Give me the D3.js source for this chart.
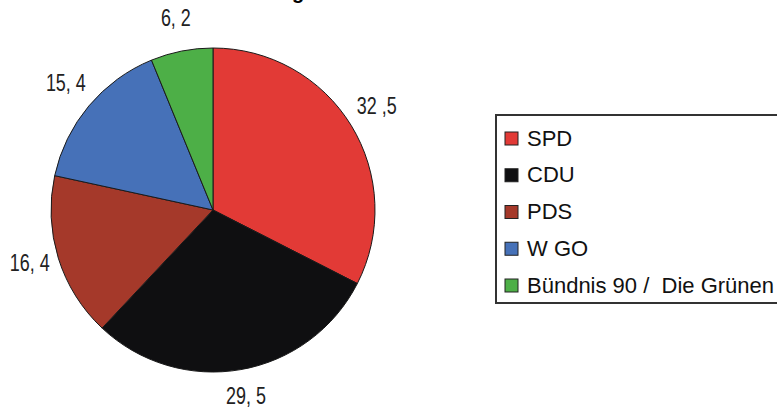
<!DOCTYPE html>
<html>
<head>
<meta charset="utf-8">
<script src="https://cdn.jsdelivr.net/npm/d3@7"></script>
<style>
  html, body { margin: 0; padding: 0; background: #fff; }
  svg { display: block; }
  text { font-family: "Liberation Sans", Arial, sans-serif; white-space: pre; }
</style>
</head>
<body>
<svg id="chart" width="777" height="408"></svg>
<script>
// ---- data ----
const categories = ["SPD", "CDU", "PDS", "W GO", "Bündnis 90 /  Die Grünen"];
const values = [32.5, 29.5, 16.4, 15.4, 6.2];
const valueLabels = ["32 ,5", "29, 5", "16, 4", "15, 4", "6, 2"];
const colors = ["#e23a36", "#0f0f11", "#a5392a", "#4671b8", "#4daf47"];
const titleText = "Wahlergebnis in Prozent";

// ---- layout ----
const W = 777, H = 408;
const cx = 213, cy = 210, R = 162, labelR = 192;

const svg = d3.select("#chart");

// title (clipped at top as in reference)
svg.append("text")
  .attr("x", 226).attr("y", -1)
  .attr("font-size", 20).attr("font-weight", "bold")
  .attr("fill", "#000")
  .text(titleText);

const data = categories.map((c, i) => ({ name: c, value: values[i], label: valueLabels[i], color: colors[i] }));

const pie = d3.pie().value(d => d.value).sort(null).startAngle(0).endAngle(2 * Math.PI);
const arcs = pie(data);
const arc = d3.arc().innerRadius(0).outerRadius(R);
const labelArc = d3.arc().innerRadius(labelR).outerRadius(labelR);

const g = svg.append("g").attr("transform", `translate(${cx},${cy})`);

g.selectAll("path.slice")
  .data(arcs)
  .join("path")
  .attr("class", "slice")
  .attr("d", arc)
  .attr("fill", d => d.data.color)
  .attr("stroke", "#1a1a1a")
  .attr("stroke-width", 1);

g.selectAll("text.val")
  .data(arcs)
  .join("text")
  .attr("class", "val")
  .attr("transform", d => { const [x, y] = labelArc.centroid(d); return `translate(${x},${y - 4}) scale(0.78,1)`; })
  .attr("text-anchor", "middle")
  .attr("dominant-baseline", "central")
  .attr("font-size", 23)
  .attr("fill", "#222")
  .text(d => d.data.label);

// legend
const lx = 496, ly = 115, lh = 188;
svg.append("rect")
  .attr("x", lx).attr("y", ly)
  .attr("width", 320).attr("height", lh)
  .attr("fill", "#fff")
  .attr("stroke", "#333").attr("stroke-width", 2);

const yLeg = d3.scalePoint().domain(categories).range([ly + 23, ly + 170]);

const items = svg.selectAll("g.leg")
  .data(data)
  .join("g")
  .attr("class", "leg")
  .attr("transform", d => `translate(${lx}, ${yLeg(d.name)})`);

items.append("rect")
  .attr("x", 9).attr("y", -6)
  .attr("width", 13).attr("height", 13)
  .attr("fill", d => d.color)
  .attr("stroke", "#222").attr("stroke-width", 1);

items.append("text")
  .attr("x", 31).attr("y", 0)
  .attr("dominant-baseline", "central")
  .attr("font-size", 22)
  .attr("fill", "#111")
  .text(d => d.name);
</script>
</body>
</html>
